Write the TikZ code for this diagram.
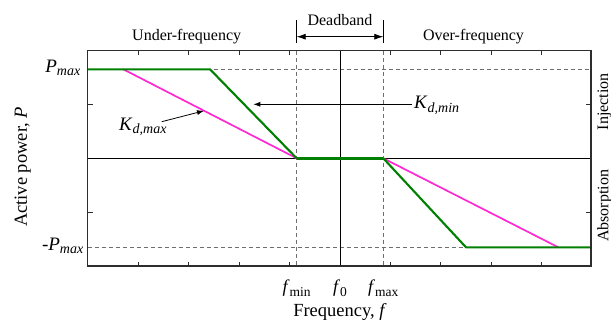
\documentclass[tikz,border=0pt]{standalone}
\usepackage{fontspec}
\setmainfont{Liberation Serif}
\usetikzlibrary{arrows.meta}
\definecolor{grn}{RGB}{0,128,0}
\definecolor{mag}{RGB}{255,40,210}
\definecolor{axc}{RGB}{45,45,45}
\definecolor{dsh}{RGB}{110,110,110}
\newcommand\mysub[2]{\raisebox{-0.4ex}{\fontsize{#1}{#1}\selectfont #2}}
\begin{document}
\begin{tikzpicture}[x=1pt,y=-1pt,
  axisline/.style={axc,line width=1.1pt},
  thinline/.style={black,line width=0.8pt},
  dashline/.style={dsh,line width=0.8pt,dash pattern=on 4pt off 3pt},
  greenline/.style={grn,line width=2.1pt,line join=round},
  magline/.style={mag,line width=1.7pt},
  lbl/.style={inner sep=0pt,font=\fontsize{16}{18}\selectfont},
  biglbl/.style={inner sep=0pt,font=\fontsize{18.5}{20}\selectfont},
  ptr/.style={black,line width=0.8pt,-{Latex[length=7pt,width=5pt]}},
  dbarrow/.style={black,line width=0.8pt,{Latex[length=9pt,width=6pt]}-{Latex[length=9pt,width=6pt]}},
  tickl/.style={axc,line width=0.9pt}]
\useasboundingbox (0,0) rectangle (611,322);
% key coordinates
\coordinate (TL) at (87.5,50.7);
\coordinate (BR) at (591,266);
\coordinate (z0) at (87.5,158.3);
\coordinate (z1) at (591,158.3);
\coordinate (pm0) at (87.5,69.3);
\coordinate (pm1) at (591,69.3);
\coordinate (nm0) at (87.5,247.3);
\coordinate (nm1) at (591,247.3);
\coordinate (fmt) at (296.7,50.7);
\coordinate (fmb) at (296.7,266);
\coordinate (fxt) at (383.3,50.7);
\coordinate (fxb) at (383.3,266);
\coordinate (f0t) at (340,50.7);
\coordinate (f0b) at (340,266);
% dashed and reference lines
\draw[dashline] (pm0) -- (pm1);
\draw[dashline] (nm0) -- (nm1);
\draw[dashline] (fmt) -- (fmb);
\draw[dashline] (fxt) -- (fxb);
\draw[thinline] (z0) -- (z1);
\draw[thinline] (f0t) -- (f0b);
% ticks
\foreach \x in {138,188.5,239,289,390,440,491,541}{
  \draw[tickl] (\x,50.7) -- (\x,55.2);
  \draw[tickl] (\x,266) -- (\x,261.5);
}
\foreach \y in {104.3,212.3}{
  \draw[tickl] (87.5,\y) -- (92.5,\y);
  \draw[tickl] (591,\y) -- (586,\y);
}
% curves
\coordinate (g1) at (210,69.3);
\coordinate (g2) at (296.7,158.3);
\coordinate (g3) at (383.3,158.3);
\coordinate (g4) at (466,247.3);
\coordinate (m1) at (123.3,69.3);
\coordinate (m4) at (558.3,247.3);
\draw[magline] (m1) -- (g2);
\draw[magline] (g3) -- (m4);
\draw[greenline] (pm0) -- (g1) -- (g2);
\draw[greenline] (g3) -- (g4) -- (nm1);
\draw[grn,line width=3pt] (g2) -- (g3);
% axes box
\draw[axisline] (TL) rectangle (BR);
% labels
\node[lbl,anchor=east,font=\fontsize{19}{20}\selectfont] (pmax) at (80.5,68) {\textit{P}\mysub{14}{\textit{max}}};
\node[lbl,anchor=east,font=\fontsize{19}{20}\selectfont] (nmax) at (83.5,246) {-\textit{P}\mysub{14}{\textit{max}}};
\node[biglbl,rotate=90] (ylab) at (22.7,167) {Active power, \textit{P}};
\node[biglbl] (xlab) at (340,312) {Frequency, \textit{f}};
\node[lbl] (under) at (186.7,37) {Under-frequency};
\node[lbl] (over) at (473.5,37) {Over-frequency};
\node[lbl] (dead) at (340,20.5) {Deadband};
\node[lbl,rotate=90] (inj) at (604.5,101.7) {Injection};
\node[lbl,rotate=90] (abs) at (604.5,205.8) {Absorption};
\node[lbl,font=\fontsize{18}{19}\selectfont] (fmin) at (296.7,288.5) {\textit{f}\mysub{13.5}{min}};
\node[lbl,font=\fontsize{18}{19}\selectfont] (fzero) at (340,288.5) {\textit{f}\mysub{13.5}{0}};
\node[lbl,font=\fontsize{18}{19}\selectfont] (fmax) at (383.3,288.5) {\textit{f}\mysub{13.5}{max}};
% deadband marker
\coordinate (db0a) at (296.7,20);
\coordinate (db0b) at (296.7,42.7);
\coordinate (db1a) at (383.3,20);
\coordinate (db1b) at (383.3,42.7);
\coordinate (dbl) at (296.7,36.7);
\coordinate (dbr) at (383.3,36.7);
\draw[thinline] (db0a) -- (db0b);
\draw[thinline] (db1a) -- (db1b);
\draw[dbarrow] (dbl) -- (dbr);
% K labels
\node[lbl,anchor=west,font=\fontsize{19}{20}\selectfont] (kmin) at (414,105.5) {\textit{K}\mysub{14}{\textit{d,min}}};
\coordinate (kminTip) at (253.3,104.3);
\coordinate (kminStart) at (412,104.3);
\draw[ptr] (kminStart) -- (kminTip);
\node[lbl,anchor=west,font=\fontsize{19}{20}\selectfont] (kmax) at (119,127) {\textit{K}\mysub{14}{\textit{d,max}}};
\coordinate (kmaxStart) at (161.7,121.7);
\coordinate (kmaxTip) at (204,110.8);
\draw[ptr] (kmaxStart) -- (kmaxTip);
\end{tikzpicture}
\end{document}
